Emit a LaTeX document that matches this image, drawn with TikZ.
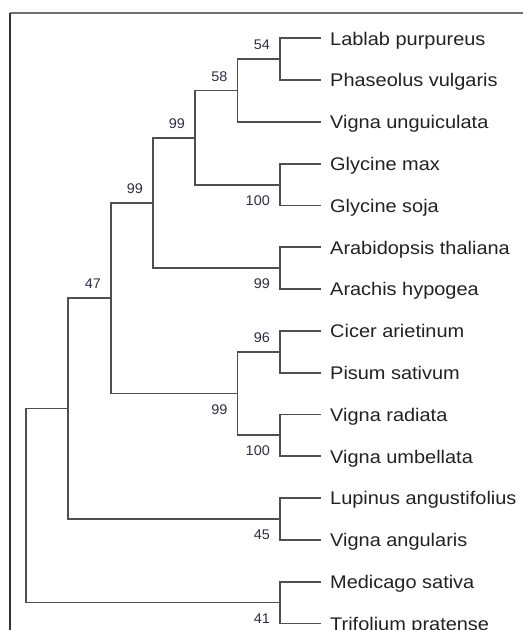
\documentclass[tikz,border=0pt]{standalone}
\usepackage{fontspec}
\setmainfont{Liberation Sans}
\newfontfamily\leaffont[FakeStretch=1.09]{Liberation Sans}
\newfontfamily\numfont[FakeStretch=1.03]{Liberation Sans}
\definecolor{branchc}{HTML}{4F4F4F}
\definecolor{leafc}{HTML}{222222}
\definecolor{numc}{HTML}{2E2E44}
\definecolor{framec}{HTML}{333333}
\definecolor{frametop}{HTML}{707070}
\begin{document}
\begin{tikzpicture}[x=1pt,y=-1pt,
  branch/.style={draw=branchc, line width=1.8pt},
  leaf/.style={anchor=base west, inner sep=0pt, text=leafc, font=\leaffont\fontsize{18.3}{20}\selectfont},
  bootup/.style={anchor=base east, inner sep=0pt, text=numc, font=\numfont\fontsize{14}{16}\selectfont},
  bootdown/.style={bootup}]
\useasboundingbox (0,0) rectangle (523,630);
% frame
\coordinate (fa) at (10,13);
\coordinate (fb) at (523,13);
\coordinate (fc) at (10,630);
\draw[frametop, line width=1.3pt] (fa) -- (fb);
\draw[framec, line width=1.3pt] (fa) -- (fc);
% leaf ends and texts
\foreach \i/\y/\t in {0/38.3/Lablab purpureus, 1/80.1/Phaseolus vulgaris, 2/121.9/Vigna unguiculata,
  3/163.7/Glycine max, 4/205.5/Glycine soja, 5/247.3/Arabidopsis thaliana, 6/289.0/Arachis hypogea,
  7/330.8/Cicer arietinum, 8/372.6/Pisum sativum, 9/414.4/Vigna radiata, 10/456.2/Vigna umbellata,
  11/498.0/Lupinus angustifolius, 12/539.8/Vigna angularis, 13/581.6/Medicago sativa, 14/623.4/Trifolium pratense}{
  \coordinate (e\i) at (321,\y);
  \node[leaf] (t\i) at (330,\y+6.8) {\t};
}
% internal nodes
\coordinate (n54) at (280,59.2);
\coordinate (n58) at (237.5,90.5);
\coordinate (nGly) at (280,184.6);
\coordinate (n99a) at (195,137.6);
\coordinate (nAra) at (280,268.2);
\coordinate (n99b) at (153,202.9);
\coordinate (nCic) at (280,351.7);
\coordinate (nVig) at (280,435.3);
\coordinate (n99c) at (237.5,393.5);
\coordinate (n47) at (111,298.2);
\coordinate (nLup) at (280,518.9);
\coordinate (nX) at (68,408.5);
\coordinate (nMed) at (280,602.5);
\coordinate (root) at (26,505.5);
% branches
\draw[branch] (root) |- (nX);
\draw[branch] (root) |- (nMed);
\draw[branch] (nX) |- (n47);
\draw[branch] (nX) |- (nLup);
\draw[branch] (n47) |- (n99b);
\draw[branch] (n47) |- (n99c);
\draw[branch] (n99b) |- (n99a);
\draw[branch] (n99b) |- (nAra);
\draw[branch] (n99a) |- (n58);
\draw[branch] (n99a) |- (nGly);
\draw[branch] (n58) |- (n54);
\draw[branch] (n58) |- (e2);
\draw[branch] (n54) |- (e0);
\draw[branch] (n54) |- (e1);
\draw[branch] (nGly) |- (e3);
\draw[branch] (nGly) |- (e4);
\draw[branch] (nAra) |- (e5);
\draw[branch] (nAra) |- (e6);
\draw[branch] (n99c) |- (nCic);
\draw[branch] (n99c) |- (nVig);
\draw[branch] (nCic) |- (e7);
\draw[branch] (nCic) |- (e8);
\draw[branch] (nVig) |- (e9);
\draw[branch] (nVig) |- (e10);
\draw[branch] (nLup) |- (e11);
\draw[branch] (nLup) |- (e12);
\draw[branch] (nMed) |- (e13);
\draw[branch] (nMed) |- (e14);
% bootstrap labels
\node[bootup] (b54) at ([shift={(-10,-9.5)}]n54) {54};
\node[bootup] (b58) at ([shift={(-10,-9.5)}]n58) {58};
\node[bootup] (b99a) at ([shift={(-10,-9.5)}]n99a) {99};
\node[bootup] (b99b) at ([shift={(-10,-9.5)}]n99b) {99};
\node[bootup] (b47) at ([shift={(-10,-9.5)}]n47) {47};
\node[bootup] (b96) at ([shift={(-10,-9.5)}]nCic) {96};
\node[bootdown] (bGly) at ([shift={(-10,20.5)}]nGly) {100};
\node[bootdown] (bAra) at ([shift={(-10,20.5)}]nAra) {99};
\node[bootdown] (b99c) at ([shift={(-10,20.5)}]n99c) {99};
\node[bootdown] (bVig) at ([shift={(-10,20.5)}]nVig) {100};
\node[bootdown] (bLup) at ([shift={(-10,20.5)}]nLup) {45};
\node[bootdown] (bMed) at ([shift={(-10,20.5)}]nMed) {41};
\end{tikzpicture}
\end{document}
